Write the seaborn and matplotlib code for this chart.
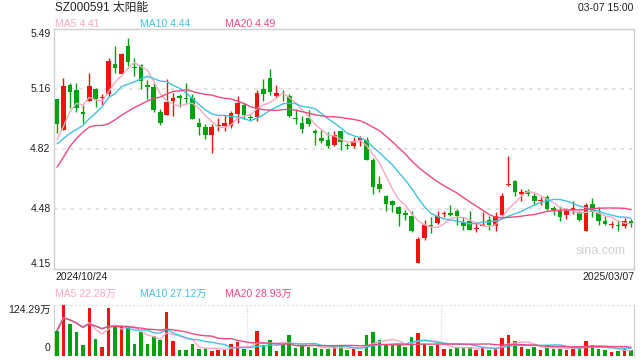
import numpy as np
import pandas as pd
import matplotlib
matplotlib.use('Agg')
import matplotlib.pyplot as plt
import seaborn as sns

# --- Data ---
opens = [5.098, 4.926, 5.176, 5.148, 5.027, 5.088, 5.154, 5.103, 5.126, 5.294,
         5.240, 5.397, 5.279, 5.290, 5.176, 5.167, 5.027, 5.008, 5.088, 5.118,
         5.103, 5.103, 4.967, 4.944, 4.898, 4.948, 4.948, 4.948, 5.015, 5.064,
         4.997, 5.000, 5.154, 5.215, 5.116, 5.141, 5.116, 4.995, 4.967, 4.995,
         4.918, 4.883, 4.873, 4.845, 4.918, 4.845, 4.836, 4.873, 4.873, 4.756,
         4.627, 4.556, 4.528, 4.496, 4.462, 4.447, 4.186, 4.322, 4.397, 4.406,
         4.457, 4.464, 4.475, 4.412, 4.416, 4.376, 4.388, 4.425, 4.388, 4.451,
         4.617, 4.644, 4.567, 4.588, 4.556, 4.530, 4.550, 4.490, 4.481, 4.451,
         4.481, 4.466, 4.363, 4.515, 4.462, 4.416, 4.397, 4.397, 4.388, 4.417]
highs = [5.100, 5.215, 5.187, 5.187, 5.064, 5.247, 5.163, 5.126, 5.326, 5.397,
         5.355, 5.438, 5.326, 5.296, 5.206, 5.191, 5.042, 5.210, 5.135, 5.126,
         5.187, 5.126, 4.995, 4.957, 4.957, 4.995, 5.008, 5.032, 5.116, 5.075,
         5.014, 5.148, 5.213, 5.266, 5.176, 5.148, 5.126, 5.042, 5.004, 5.036,
         4.929, 4.924, 4.916, 4.918, 4.918, 4.855, 4.886, 4.892, 4.888, 4.767,
         4.668, 4.561, 4.537, 4.500, 4.481, 4.472, 4.328, 4.425, 4.438, 4.475,
         4.475, 4.509, 4.487, 4.438, 4.475, 4.410, 4.466, 4.444, 4.466, 4.574,
         4.780, 4.649, 4.597, 4.597, 4.574, 4.550, 4.561, 4.503, 4.500, 4.490,
         4.528, 4.472, 4.518, 4.546, 4.494, 4.447, 4.416, 4.421, 4.434, 4.428]
lows = [4.907, 4.926, 5.047, 5.027, 4.967, 5.088, 5.056, 5.064, 5.116, 5.247,
        5.236, 5.284, 5.228, 5.157, 5.098, 5.027, 4.954, 5.008, 5.004, 5.056,
        5.079, 4.985, 4.896, 4.877, 4.799, 4.920, 4.920, 4.935, 4.967, 4.989,
        4.976, 4.976, 5.088, 5.120, 5.107, 5.088, 4.999, 4.957, 4.907, 4.948,
        4.845, 4.855, 4.827, 4.836, 4.817, 4.821, 4.827, 4.836, 4.758, 4.569,
        4.578, 4.475, 4.466, 4.388, 4.425, 4.356, 4.186, 4.313, 4.350, 4.401,
        4.440, 4.444, 4.397, 4.369, 4.365, 4.356, 4.388, 4.365, 4.360, 4.451,
        4.612, 4.556, 4.531, 4.556, 4.509, 4.505, 4.481, 4.453, 4.416, 4.429,
        4.459, 4.416, 4.363, 4.440, 4.397, 4.397, 4.378, 4.360, 4.378, 4.386]
closes = [4.957, 5.169, 5.139, 5.049, 5.015, 5.169, 5.098, 5.111, 5.311, 5.271,
          5.352, 5.307, 5.273, 5.200, 5.167, 5.038, 4.963, 5.083, 5.103, 5.107,
          5.099, 4.985, 4.943, 4.898, 4.941, 4.952, 4.967, 5.019, 5.075, 5.008,
          4.991, 5.131, 5.126, 5.139, 5.131, 5.137, 5.004, 4.985, 4.929, 4.957,
          4.909, 4.864, 4.836, 4.900, 4.858, 4.836, 4.864, 4.879, 4.758, 4.606,
          4.599, 4.515, 4.505, 4.459, 4.451, 4.360, 4.318, 4.397, 4.391, 4.444,
          4.462, 4.453, 4.444, 4.388, 4.365, 4.380, 4.401, 4.397, 4.444, 4.559,
          4.623, 4.578, 4.582, 4.569, 4.528, 4.533, 4.487, 4.481, 4.440, 4.472,
          4.492, 4.425, 4.505, 4.472, 4.419, 4.403, 4.401, 4.388, 4.419, 4.406]
# closes of the 19 sessions before the window, backed out of the MA lines
prev_close = [4.05, 3.94, 4.19, 4.28, 4.61, 4.92, 5.11, 5.11, 4.83, 4.85,
              4.87, 4.85, 4.84, 4.79, 4.78, 4.79, 4.74, 4.81, 5.06]
volume = [62, 124, 78, 58, 28, 118, 42, 22, 118, 75,
          70, 70, 30, 58, 30, 48, 38, 108, 36, 14,
          14, 30, 16, 20, 12, 14, 18, 30, 34, 16,
          15, 60, 28, 38, 12, 30, 50, 20, 26, 22,
          20, 16, 18, 22, 26, 14, 16, 12, 50, 58,
          38, 30, 26, 32, 22, 46, 56, 30, 24, 26,
          18, 16, 20, 22, 22, 14, 22, 14, 16, 44,
          50, 36, 22, 18, 22, 14, 28, 18, 18, 14,
          18, 22, 36, 28, 18, 14, 10, 12, 16, 14]

price_ticks = [5.49, 5.155, 4.82, 4.485, 4.15]
price_labels = ['5.49', '5.16', '4.82', '4.48', '4.15']
vol_max = 124.29
title = 'SZ000591 太阳能'
stamp = '03-07 15:00'
start_label, end_label = '2024/10/24', '2025/03/07'
price_legend = ['MA5 4.41', 'MA10 4.44', 'MA20 4.49']
vol_legend = ['MA5 22.28万', 'MA10 27.12万', 'MA20 28.93万']

# --- Setup ---
sns.set_style('white')
plt.rcParams['font.family'] = ['Liberation Sans', 'Noto Sans CJK SC', 'DejaVu Sans']

RED, GREEN = '#f2140c', '#00a30e'
MA_COLORS = ['#f8a9c2', '#3fc3e2', '#ee4a7c']
GRID = '#dddddd'
BORDER = '#cfcfcf'

df = pd.DataFrame({'open': opens, 'high': highs, 'low': lows, 'close': closes, 'vol': volume})
df['i'] = np.arange(len(df))
df['up'] = df['close'] >= df['open']
df['color'] = np.where(df['up'], RED, GREEN)

full_close = pd.Series(prev_close + closes)
for n in (5, 10, 20):
    df[f'ma{n}'] = full_close.rolling(n).mean().iloc[len(prev_close):].values
    df[f'vma{n}'] = df['vol'].rolling(n, min_periods=1).mean()

fig = plt.figure(figsize=(6.4, 3.6), dpi=100)
ax = fig.add_axes([54 / 640, 1 - 269 / 360, 580 / 640, 240 / 360])
axv = fig.add_axes([54 / 640, 1 - 356 / 360, 580 / 640, 51 / 360])

# --- Candles ---
ax.vlines(df['i'], df['low'], df['high'], colors=df['color'], linewidth=1, zorder=2)
body = (df['close'] - df['open']).abs().clip(lower=0.004)
ax.bar(df['i'], body, bottom=df[['open', 'close']].min(axis=1), width=0.72,
       color=df['color'], linewidth=0, zorder=3)
for n, c in zip((5, 10, 20), MA_COLORS):
    sns.lineplot(data=df, x='i', y=f'ma{n}', color=c, linewidth=1.0, ax=ax, zorder=4)

ax.set_xlim(-0.47, len(df) - 0.53)
ax.set_ylim(price_ticks[-1], price_ticks[0])
for v in price_ticks[1:-1]:
    ax.axhline(v, color=GRID, linestyle=(0, (2, 3)), linewidth=1.2, zorder=1)
ax.set_xticks([])
ax.set_yticks([])
ax.set_xlabel('')
ax.set_ylabel('')
for s in ax.spines.values():
    s.set_color(BORDER)
    s.set_linewidth(1)
ax.text(0.985, 0.075, 'sina.com', transform=ax.transAxes, ha='right', va='center',
        color='#d0d0d0', fontsize=9)

for v, lab in zip(price_ticks, price_labels):
    va = 'top' if v == price_ticks[0] else ('bottom' if v == price_ticks[-1] else 'center')
    ax.text(-0.006, v, lab, transform=ax.get_yaxis_transform(), ha='right', va=va,
            fontsize=7.5, color='#222222')

# --- Volume ---
axv.bar(df['i'], df['vol'], width=0.55, color=df['color'], linewidth=0, zorder=3)
for n, c in zip((5, 10, 20), MA_COLORS):
    sns.lineplot(data=df, x='i', y=f'vma{n}', color=c, linewidth=1.0, ax=axv, zorder=4)
axv.set_xlim(-0.47, len(df) - 0.53)
axv.set_ylim(0, vol_max)
axv.set_xticks([])
axv.set_yticks([])
axv.set_xlabel('')
axv.set_ylabel('')
axv.spines['top'].set_visible(False)
axv.spines['bottom'].set_visible(False)
for s in ('left', 'right'):
    axv.spines[s].set_color(BORDER)
axv.axhline(vol_max, color=GRID, linestyle=(0, (1, 1)), linewidth=1.5, zorder=1)
for f in (1 / 3, 2 / 3):
    axv.axvline(-0.47 + f * len(df), color=GRID, linestyle=(0, (1, 1)), linewidth=1, zorder=1)
axv.text(-0.006, 1.0, f'{vol_max}万', transform=axv.transAxes, ha='right', va='top',
         fontsize=7.5, color='#222222')
axv.text(-0.006, 0.15, '0', transform=axv.transAxes, ha='right', va='center',
         fontsize=7.5, color='#222222')

# --- Header texts ---
fig.text(55 / 640, 1 - 8 / 360, title, ha='left', va='center', fontsize=8.5, color='#222222')
fig.text(633 / 640, 1 - 8 / 360, stamp, ha='right', va='center', fontsize=7.5, color='#222222')
for k, (lab, c) in enumerate(zip(price_legend, MA_COLORS)):
    fig.text((55 + 85 * k) / 640, 1 - 24 / 360, lab, ha='left', va='center', fontsize=7.5, color=c)
for k, (lab, c) in enumerate(zip(vol_legend, MA_COLORS)):
    fig.text((55 + 85 * k) / 640, 1 - 294 / 360, lab, ha='left', va='center', fontsize=7.5, color=c)
fig.text(55 / 640, 1 - 277 / 360, start_label, ha='left', va='center', fontsize=7.5, color='#222222')
fig.text(634 / 640, 1 - 277 / 360, end_label, ha='right', va='center', fontsize=7.5, color='#222222')

fig.savefig('out.png', dpi=100)
